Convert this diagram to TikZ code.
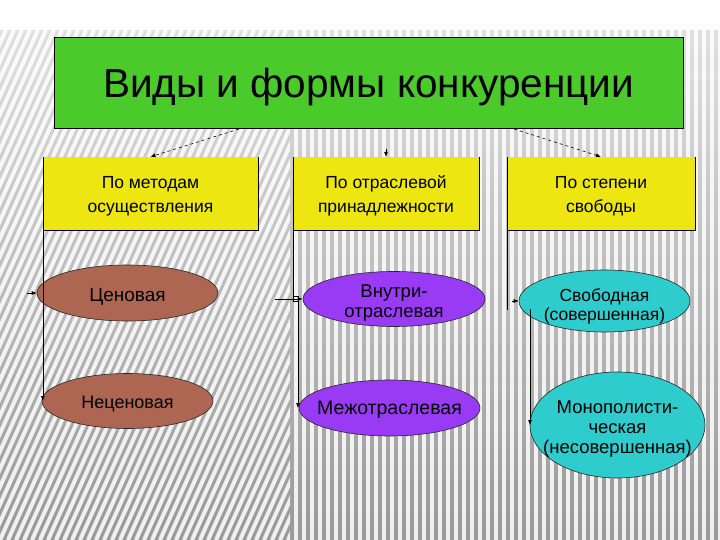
\documentclass[tikz,border=0pt]{standalone}
\usepackage{fontspec}
\setmainfont{Liberation Sans}
\usetikzlibrary{arrows.meta,shapes.geometric}
\definecolor{titlegreen}{RGB}{74,202,43}
\definecolor{boxyellow}{RGB}{238,230,16}
\definecolor{ovbrown}{RGB}{172,102,82}
\definecolor{ovpurple}{RGB}{153,58,245}
\definecolor{ovcyan}{RGB}{46,204,204}
\tikzset{
  stripe/.style={white, line width=4pt, opacity=0.85},
  ybox/.style={fill=boxyellow, inner sep=0pt, align=center, text height=37pt, text depth=0pt,
    font=\fontsize{17.5}{24}\selectfont},
  oval/.style={ellipse, draw=black!85, line width=0.6pt, inner xsep=-16pt, inner ysep=-20pt,
    align=center, text depth=0pt, font=\fontsize{18.5}{20}\selectfont},
  link/.style={draw=black, line width=0.6pt},
  arr/.style={link, -{Latex[length=5pt,width=4pt]}},
  darr/.style={arr, dashed}
}
\begin{document}
\begin{tikzpicture}[x=1pt,y=-1pt]
\useasboundingbox (0,0) rectangle (720,540);
% background
\fill[white] (0,0) rectangle (720,540);
\foreach \k in {0,...,50} {
  \pgfmathsetmacro{\shadeval}{25+55*\k/50}
  \fill[gray!\shadeval] (0,30+\k*10) rectangle (720,41+\k*10);
}
\begin{scope}
  \clip (0,30) rectangle (290,540);
  \foreach \i in {-32,...,44} { \draw[stripe] (\i*8,540) -- ++(230,-510); }
\end{scope}
\begin{scope}
  \clip (290,30) rectangle (720,540);
  \foreach \i in {36,...,91} { \draw[stripe] (\i*8,30) -- (\i*8,540); }
\end{scope}

% title
\node[fill=titlegreen, draw=black, line width=0.7pt, minimum width=629pt, minimum height=91pt,
      text height=29pt, text depth=0pt,
      font=\fontsize{40.5}{46}\selectfont] (g) at (368.5,83) {Виды и формы конкуренции};

% category boxes
\node[ybox, minimum width=215pt, minimum height=73pt] (b1) at (150.5,193.5) {По методам\\осуществления};
\node[ybox, minimum width=186pt, minimum height=73pt] (b2) at (386,193.5) {По отраслевой\\принадлежности};
\node[ybox, minimum width=188pt, minimum height=73pt] (b3) at (601,193.5) {По степени\\свободы};
\foreach \b in {b1,b2,b3} {
  \draw[link] (\b.north west) -- (\b.south west) -- (\b.south east) -- (\b.north east);
}

% ovals
\node[oval, fill=ovbrown, minimum width=181pt, minimum height=56pt, text height=16pt,
      font=\fontsize{19}{22}\selectfont] (e1) at (127.5,293) {Ценовая};
\node[oval, fill=ovbrown, minimum width=171pt, minimum height=55pt, text height=14pt,
      font=\fontsize{18}{22}\selectfont] (e2) at (127.5,401) {Неценовая};
\node[oval, fill=ovpurple, minimum width=182pt, minimum height=55pt, text height=36pt] (e3) at (394,299) {Внутри-\\отраслевая};
\node[oval, fill=ovpurple, minimum width=181pt, minimum height=56pt, text height=13pt,
      font=\fontsize{19.5}{22}\selectfont] (e4) at (389.5,408) {Межотраслевая};
\node[oval, fill=ovcyan, minimum width=171pt, minimum height=62pt, text height=38pt,
      font=\fontsize{17.5}{19}\selectfont] (e5) at (604.5,301) {Свободная\\(совершенная)};
\node[oval, fill=ovcyan, minimum width=175pt, minimum height=106pt, text height=56pt,
      font=\fontsize{18.5}{20}\selectfont] (e6) at (617.5,425) {Монополисти-\\ческая\\(несовершенная)};

% top dashed arrows
\coordinate (g1) at (239,129);
\coordinate (g2) at (386,149);
\coordinate (g3) at (514,129);
\draw[darr] (g1) -- (b1.north);
\draw[darr] (g2) -- (b2.north);
\draw[darr] (g3) -- (b3.north);

% left column
\coordinate (c1) at (27,293);
\draw[arr] (c1) -- (e1.west);
\draw[arr] (b1.south west) -- (b1.south west |- e2.west);

% middle column
\draw[link] (b2.south west) -- ++(0,70);
\coordinate (m0) at (275,299);
\draw[arr] (m0) -- (e3.west);
\draw[link] (293,296) rectangle (298,301);
\coordinate (m2) at (298,299);
\draw[arr] (m2) -- (m2 |- e4.west);

% right column
\draw[link] (b3.south west) -- ++(0,80);
\coordinate (r0) at (512,301);
\draw[arr] (r0) -- (e5.west);
\coordinate (r1) at (530,309);
\draw[arr] (r1) -- (r1 |- e6.west);
\end{tikzpicture}
\end{document}
